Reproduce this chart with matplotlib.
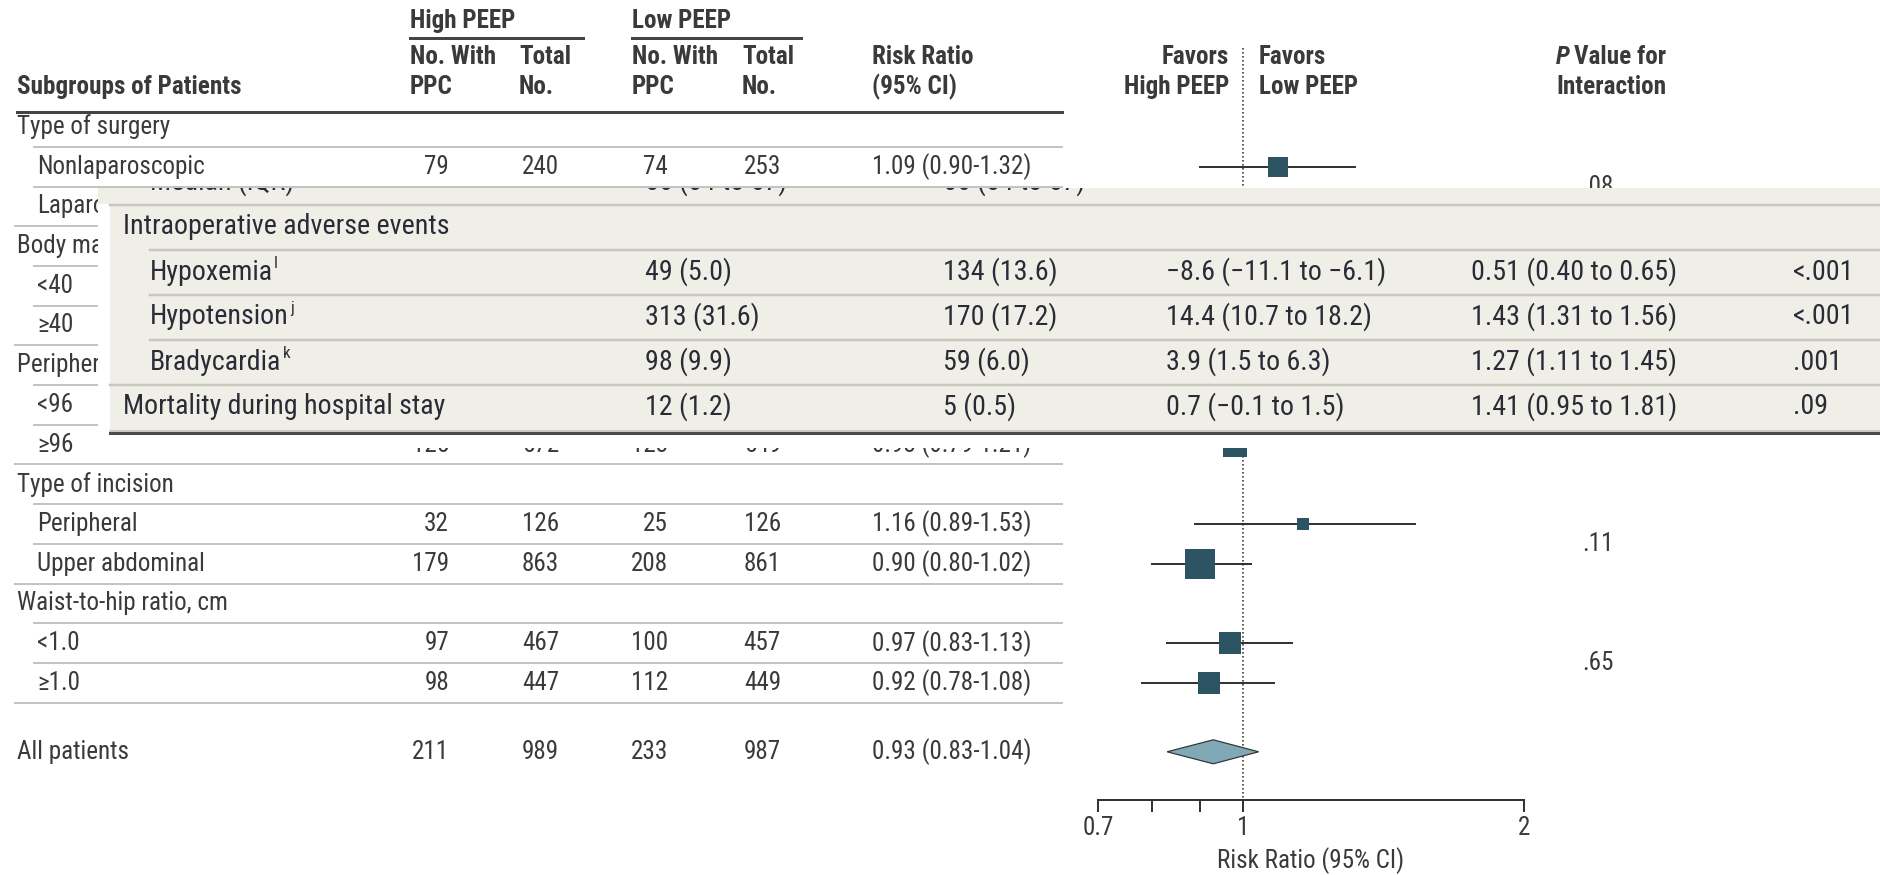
import numpy as np
import matplotlib

matplotlib.use("Agg")
import matplotlib.pyplot as plt
from matplotlib import font_manager
from matplotlib.patches import Polygon, Rectangle
from matplotlib.textpath import TextPath
from matplotlib.font_manager import FontProperties

# forest plot data (rows hidden under the overlay are estimates)
group_labels = [
    "Type of surgery",
    "Body mass index",
    "Peripheral Spo2, %",
    "Type of incision",
    "Waist-to-hip ratio, cm",
]
group_sizes = [2, 2, 2, 2, 2]
p_interaction = [".08", ".35", ".20", ".11", ".65"]

subgroup_labels = [
    "Nonlaparoscopic", "Laparoscopic", "<40", "≥40", "<96", "≥96",
    "Peripheral", "Upper abdominal", "<1.0", "≥1.0",
]
high_ppc = [79, 132, 107, 104, 86, 125, 32, 179, 97, 98]
high_total = [240, 749, 545, 444, 417, 572, 126, 863, 467, 447]
low_ppc = [74, 159, 125, 108, 110, 123, 25, 208, 100, 112]
low_total = [253, 734, 530, 457, 438, 549, 126, 861, 457, 449]
rr = [1.09, 0.81, 0.83, 1.01, 0.82, 0.98, 1.16, 0.90, 0.97, 0.92]
rr_lo = [0.90, 0.67, 0.68, 0.81, 0.65, 0.79, 0.89, 0.80, 0.83, 0.78]
rr_hi = [1.32, 0.99, 1.02, 1.27, 1.04, 1.21, 1.53, 1.02, 1.13, 1.08]

overall_label = "All patients"
overall_counts = [211, 989, 233, 987]
overall_rr = [0.93, 0.83, 1.04]

axis_ticks = [0.7, 0.8, 0.9, 1, 2]
axis_labels = {0.7: "0.7", 1: "1", 2: "2"}

# pasted table fragment (overlay)
ae_header = "Intraoperative adverse events"
ae_labels = ["Hypoxemia", "Hypotension", "Bradycardia"]
ae_marks = ["l", "j", "k"]
ae_high = ["49 (5.0)", "313 (31.6)", "98 (9.9)"]
ae_low = ["134 (13.6)", "170 (17.2)", "59 (6.0)"]
ae_diff = ["−8.6 (−11.1 to −6.1)", "14.4 (10.7 to 18.2)", "3.9 (1.5 to 6.3)"]
ae_rr = ["0.51 (0.40 to 0.65)", "1.43 (1.31 to 1.56)", "1.27 (1.11 to 1.45)"]
ae_p = ["<.001", "<.001", ".001"]
mort_row = ["Mortality during hospital stay", "12 (1.2)", "5 (0.5)",
            "0.7 (−0.1 to 1.5)", "1.41 (0.95 to 1.81)", ".09"]
median_row = ["Median (IQR)", "56 (54 to 57)", "56 (54 to 57)"]


def pick_font():
    entries = font_manager.fontManager.ttflist
    names = {f.name for f in entries}
    for name in ("Liberation Sans Narrow", "Roboto Condensed", "Open Sans Condensed",
                 "Noto Sans Condensed", "DejaVu Sans Condensed", "Noto Sans Display Condensed"):
        if name in names:
            return name, "normal"
    for name in ("Noto Sans", "Open Sans", "Roboto", "DejaVu Sans"):
        if any(f.name == name and "condensed" in str(f.stretch) for f in entries):
            return name, "condensed"
    for name in ("Roboto", "Liberation Sans", "DejaVu Sans"):
        if name in names:
            return name, "normal"
    return "DejaVu Sans", "normal"


FAMILY, STRETCH = pick_font()
plt.rcParams["font.family"] = [FAMILY, "DejaVu Sans"]


def fit_size(s, width_px, weight="normal"):
    # font size (pt) that makes s about width_px wide at dpi 100
    fp = FontProperties(family=[FAMILY, "DejaVu Sans"], weight=weight, stretch=STRETCH, size=10)
    w = TextPath((0, 0), s, prop=fp).get_extents().width  # in points at size 10
    return 10 * width_px * 0.72 / w


W, H = 1880, 875
PX = 0.72  # points per pixel at dpi 100
TEXT = "#3a3a3a"
OV_TEXT = "#2b2b38"
RULE = "#c3c3c3"
BOX = "#2d5462"
MAIN_PT = fit_size("Subgroups of Patients", 222, "bold")
OV_PT = fit_size("Mortality during hospital stay", 320)

fig = plt.figure(figsize=(W / 100, H / 100), dpi=100)
ax = fig.add_axes([0, 0, 1, 1], zorder=0)
ax.set_xlim(0, W)
ax.set_ylim(H, 0)
ax.axis("off")

# log axis placed so that 0.7 -> x=1098 px and 2 -> x=1524 px
x07, x2 = 1098.0, 1524.0
k = (x2 - x07) / np.log(2 / 0.7)
fx = fig.add_axes([0, 0, 1, 1], zorder=1)
fx.patch.set_alpha(0)
fx.set_xscale("log")
fx.set_xlim(np.exp(np.log(0.7) - x07 / k), np.exp(np.log(2) + (W - x2) / k))
fx.set_ylim(H, 0)
fx.axis("off")


def put(a, x, y, s, size=None, ha="left", weight="normal", color=TEXT, style="normal", clip=False):
    return a.text(x, y, s, fontsize=size or MAIN_PT, ha=ha, va="center", fontweight=weight,
                  fontstretch=STRETCH, color=color, fontstyle=style, clip_on=clip)


# column headers
put(ax, 410, 21, "High PEEP", weight="bold")
put(ax, 632, 21, "Low PEEP", weight="bold")
ax.plot([410, 583], [38, 38], color="#444444", lw=3 * PX)
ax.plot([632, 801], [38, 38], color="#444444", lw=3 * PX)
for x, top, bottom in [(410, "No. With", "PPC"), (519, "Total", "No."),
                       (632, "No. With", "PPC"), (742, "Total", "No."),
                       (872, "Risk Ratio", "(95% CI)")]:
    put(ax, x, 57, top, weight="bold")
    put(ax, x, 87, bottom, weight="bold")
put(ax, 17, 87, "Subgroups of Patients", weight="bold")
ax.plot([17, 1062], [111.5, 111.5], color="#444444", lw=3 * PX)
put(ax, 1229, 57, "Favors", ha="right", weight="bold")
put(ax, 1229, 87, "High PEEP", ha="right", weight="bold")
put(ax, 1259, 57, "Favors", weight="bold")
put(ax, 1259, 87, "Low PEEP", weight="bold")

fig.canvas.draw()
renderer = fig.canvas.get_renderer()
p_txt = put(ax, 1556, 57, "P", weight="bold", style="italic")
px_end = p_txt.get_window_extent(renderer).x1
put(ax, px_end + 4, 57, "Value for", weight="bold")
put(ax, 1556, 87, "Interaction", weight="bold")

# table body + forest
step = 39.7
y = 127.0
i = 0
for g, name in enumerate(group_labels):
    put(ax, 17, y, name)
    ax.plot([34, 1062], [y + step / 2, y + step / 2], color=RULE, lw=2 * PX)
    rows_y = []
    for j in range(group_sizes[g]):
        y += step
        rows_y.append(y)
        put(ax, 37, y, subgroup_labels[i])
        put(ax, 449, y, str(high_ppc[i]), ha="right")
        put(ax, 559, y, str(high_total[i]), ha="right")
        put(ax, 668, y, str(low_ppc[i]), ha="right")
        put(ax, 781, y, str(low_total[i]), ha="right")
        put(ax, 872, y, f"{rr[i]:.2f} ({rr_lo[i]:.2f}-{rr_hi[i]:.2f})")
        last = j == group_sizes[g] - 1
        ax.plot([15 if last else 34, 1062], [y + step / 2, y + step / 2], color=RULE, lw=2 * PX)
        # inverse-variance weight sets the box size
        var = 1 / high_ppc[i] - 1 / high_total[i] + 1 / low_ppc[i] - 1 / low_total[i]
        side = 2.7 * np.sqrt(1 / var)
        fx.plot([rr_lo[i], rr_hi[i]], [y, y], color="#333333", lw=2 * PX, zorder=2)
        fx.scatter([rr[i]], [y], marker="s", s=(side * PX) ** 2, color=BOX, zorder=3, linewidths=0)
        i += 1
    put(ax, 1582, np.mean(rows_y), p_interaction[g])
    y += step

y_all = y - step + 69
put(ax, 17, y_all, overall_label)
for x, v in zip([449, 559, 668, 781], overall_counts):
    put(ax, x, y_all, str(v), ha="right")
put(ax, 872, y_all, f"{overall_rr[0]:.2f} ({overall_rr[1]:.2f}-{overall_rr[2]:.2f})")
diamond = Polygon(
    [(overall_rr[1], y_all), (overall_rr[0], y_all - 12),
     (overall_rr[2], y_all), (overall_rr[0], y_all + 12)],
    closed=True, facecolor="#80a8b7", edgecolor="#333333", lw=1.2 * PX, zorder=3,
)
fx.add_patch(diamond)

# reference line and axis
axis_y = 800
fx.plot([1, 1], [48, axis_y], color="#333333", lw=1.6 * PX, ls=(0, (1, 1.5)), zorder=1)
fx.plot([axis_ticks[0], axis_ticks[-1]], [axis_y, axis_y], color="#333333", lw=2 * PX)
for t in axis_ticks:
    fx.plot([t, t], [axis_y, axis_y + 11], color="#333333", lw=2 * PX)
    if t in axis_labels:
        put(fx, t, 828, axis_labels[t], ha="center")
put(fx, np.sqrt(axis_ticks[0] * axis_ticks[-1]), 861, "Risk Ratio (95% CI)", ha="center")

# overlay: pasted table fragment
ox0, oy0, oy1 = 98, 188, 448
ov = fig.add_axes([ox0 / W, (H - oy1) / H, (W - ox0) / W, (oy1 - oy0) / H], zorder=2)
ov.set_xlim(ox0, W)
ov.set_ylim(oy1, oy0)
ov.axis("off")
ov.add_patch(Rectangle((ox0, oy0), W - ox0, oy1 - oy0, facecolor="white", edgecolor="none"))
ov.add_patch(Rectangle((110, oy0), W - 110, 433 - oy0, facecolor="#f0efe7", edgecolor="none"))
ov.add_patch(Rectangle((ox0, oy0), 12, 16, facecolor="#f0efe7", edgecolor="none"))

cols = [645, 943, 1166, 1471, 1793]
ov_step = 45
oy = 182
put(ov, 150, oy, median_row[0], size=OV_PT, color=OV_TEXT, clip=True)
put(ov, cols[0], oy, median_row[1], size=OV_PT, color=OV_TEXT, clip=True)
put(ov, cols[1], oy, median_row[2], size=OV_PT, color=OV_TEXT, clip=True)
ov.plot([110, W], [oy + ov_step / 2] * 2, color="#c8c7bf", lw=2.5 * PX)
oy += ov_step
put(ov, 123, oy, ae_header, size=OV_PT, color=OV_TEXT)
ov.plot([150, W], [oy + ov_step / 2] * 2, color="#c8c7bf", lw=2.5 * PX)
fig.canvas.draw()
inv = ov.transData.inverted()
for r in range(len(ae_labels)):
    oy += ov_step
    lab = put(ov, 150, oy, ae_labels[r], size=OV_PT, color=OV_TEXT)
    x_end = inv.transform((lab.get_window_extent(renderer).x1, 0))[0]
    put(ov, x_end + 1, oy - 9, ae_marks[r], size=OV_PT * 0.6, color=OV_TEXT)
    for x, s in zip(cols, [ae_high[r], ae_low[r], ae_diff[r], ae_rr[r], ae_p[r]]):
        put(ov, x, oy, s, size=OV_PT, color=OV_TEXT)
    x_start = 110 if r == len(ae_labels) - 1 else 150
    ov.plot([x_start, W], [oy + ov_step / 2] * 2, color="#c8c7bf", lw=2.5 * PX)
oy += ov_step
put(ov, 123, oy, mort_row[0], size=OV_PT, color=OV_TEXT)
for x, s in zip(cols, mort_row[1:]):
    put(ov, x, oy, s, size=OV_PT, color=OV_TEXT)
ov.plot([110, W], [433, 433], color="#4a4a4a", lw=3 * PX)
ov.plot([110, W], [430.5, 430.5], color="#bdbcb5", lw=1.5 * PX)

fig.savefig("out.png", dpi=100)
